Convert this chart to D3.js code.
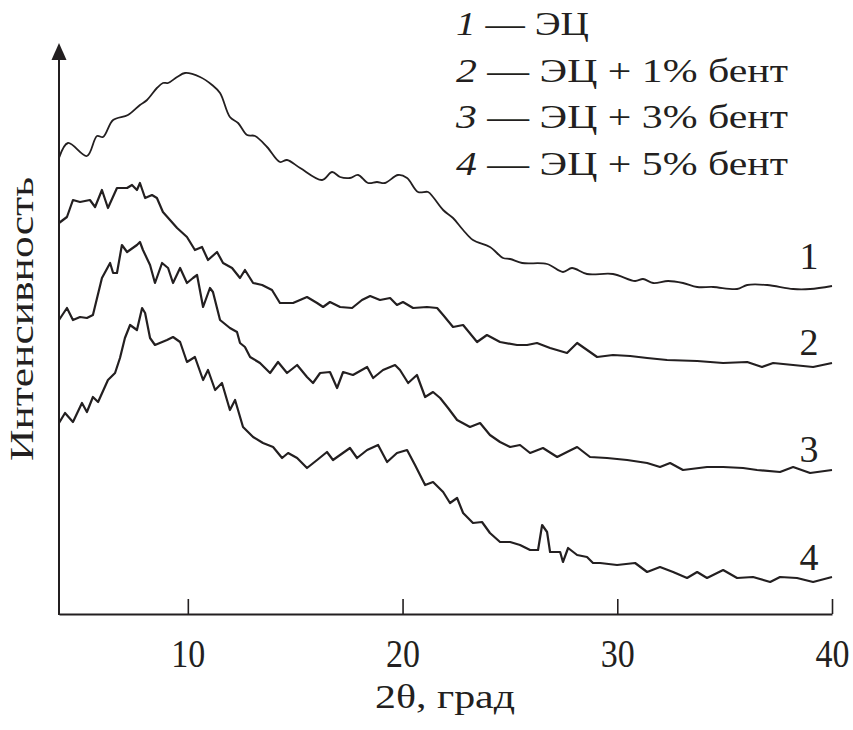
<!DOCTYPE html>
<html><head><meta charset="utf-8">
<script src="https://cdn.jsdelivr.net/npm/d3@7"></script>
<style>
html,body{margin:0;padding:0;background:#fff;}
svg{display:block;}
text{font-family:"Liberation Serif","Times New Roman",Tinos,"Nimbus Roman","Nimbus Roman No9 L",FreeSerif,Times,serif;fill:#231f20;}
</style></head>
<body>
<script>
// ---- data (2θ in degrees, intensity in arbitrary units) ----
const xTicks = [10, 20, 30, 40];
const curveLabels = ["1", "2", "3", "4"];
const legendNums = ["1", "2", "3", "4"];
const legendTexts = [" — ЭЦ", " — ЭЦ + 1% бент", " — ЭЦ + 3% бент", " — ЭЦ + 5% бент"];
const xTitle = "2θ, град";
const yTitle = "Интенсивность";

const curve1 = [[4.00,455],[4.42,470],[5.30,457],[5.77,477],[6.05,476],[6.52,493],[7.21,498],[7.77,508],[8.10,513],[8.56,525],[8.84,530],[9.08,530],[9.50,536],[9.87,540],[10.57,536],[11.13,528],[11.50,520],[11.96,496],[12.34,490],[12.76,478],[13.13,477],[13.69,466],[14.29,451],[14.62,453],[15.23,445],[16.25,433],[16.72,441],[17.09,436],[17.55,435],[17.93,438],[18.39,430],[18.81,431],[19.18,430],[19.79,438],[20.21,435],[20.72,421],[21.19,421],[21.42,416],[21.89,403],[22.35,395],[22.82,383],[23.28,373],[24.07,366],[24.68,355],[25.01,354],[25.57,350],[26.73,349],[27.47,341],[27.89,345],[28.59,339],[29.80,339],[30.83,332],[31.20,334],[31.67,330],[32.37,332],[33.06,330],[33.72,326],[34.46,326],[35.58,324],[36.05,328],[36.98,328],[38.19,324],[38.98,324],[40.00,327]];

const curve2 = [[4.00,390],[4.37,396],[4.65,413],[4.98,411],[5.44,413],[5.68,406],[6.00,423],[6.28,405],[6.70,425],[7.17,425],[7.40,428],[7.63,423],[7.77,430],[8.01,415],[8.33,418],[8.56,415],[8.84,401],[9.17,393],[9.50,385],[9.96,376],[10.33,363],[10.66,366],[10.94,353],[11.36,361],[11.64,350],[12.06,345],[12.43,335],[12.66,343],[13.04,330],[13.46,328],[13.92,323],[14.29,310],[14.90,310],[15.55,316],[16.02,310],[16.30,306],[16.62,311],[17.09,306],[17.65,305],[18.11,313],[18.49,317],[18.95,313],[19.42,315],[19.74,308],[20.02,311],[20.49,305],[21.14,306],[21.61,305],[21.89,298],[22.35,286],[22.82,288],[23.47,271],[23.93,278],[24.54,271],[25.33,268],[25.80,268],[26.26,270],[26.87,265],[27.66,260],[28.13,270],[28.73,261],[29.06,256],[29.80,258],[30.60,257],[31.39,255],[32.32,253],[33.72,252],[34.93,250],[36.05,251],[36.74,246],[37.26,250],[38.19,248],[39.12,246],[40.00,250]];

const curve3 = [[4.00,293],[4.37,305],[4.65,293],[4.98,296],[5.30,295],[5.58,298],[6.00,335],[6.38,350],[6.52,340],[6.70,340],[6.93,368],[7.17,361],[7.63,368],[7.77,371],[7.91,363],[8.24,348],[8.47,330],[8.80,350],[9.08,345],[9.31,330],[9.64,345],[9.96,330],[10.24,335],[10.43,338],[10.71,306],[11.03,325],[11.17,321],[11.50,293],[11.96,285],[12.29,281],[12.43,270],[12.66,266],[12.90,256],[13.36,250],[13.83,240],[14.20,251],[14.62,240],[15.09,248],[15.55,236],[15.83,230],[16.16,240],[16.62,241],[16.95,225],[17.23,241],[17.69,238],[18.35,246],[18.63,235],[19.09,243],[19.65,248],[19.88,243],[20.26,230],[20.67,238],[21.05,216],[21.42,221],[21.75,215],[22.12,205],[22.54,193],[23.14,186],[23.61,190],[24.07,178],[24.54,171],[25.01,166],[25.47,168],[25.94,160],[26.54,165],[27.20,156],[27.66,161],[28.13,166],[28.73,156],[29.52,155],[30.46,153],[31.39,150],[31.99,146],[32.46,150],[33.06,143],[34.18,146],[34.93,146],[35.86,145],[36.51,143],[37.58,141],[38.19,146],[38.98,140],[40.00,143]];

const curve4 = [[4.00,190],[4.28,200],[4.65,191],[5.07,210],[5.30,201],[5.58,216],[5.82,211],[6.28,233],[6.61,240],[6.84,255],[7.07,275],[7.31,288],[7.63,283],[7.87,305],[8.01,300],[8.24,275],[8.47,268],[9.03,273],[9.31,276],[9.64,271],[9.96,251],[10.33,256],[10.71,233],[10.94,243],[11.27,223],[11.59,230],[11.96,203],[12.20,213],[12.57,186],[13.04,176],[13.50,170],[13.97,166],[14.39,155],[14.67,160],[15.09,155],[15.55,145],[16.02,153],[16.48,161],[16.76,153],[17.55,165],[17.88,155],[18.35,163],[18.86,168],[19.28,151],[19.74,160],[20.21,163],[20.58,148],[21.05,128],[21.42,131],[21.89,121],[22.21,110],[22.54,115],[22.82,100],[23.28,90],[23.70,91],[24.07,80],[24.54,71],[25.01,71],[25.47,68],[25.94,63],[26.31,63],[26.50,88],[26.73,81],[26.87,61],[27.34,61],[27.47,51],[27.71,65],[28.13,58],[28.59,56],[28.87,50],[29.20,50],[29.99,48],[30.83,50],[31.39,41],[31.99,46],[32.60,41],[33.25,35],[33.72,41],[34.18,35],[34.93,43],[35.58,35],[36.32,36],[37.12,31],[37.58,36],[38.37,35],[39.12,31],[40.00,36]];

const curves = [curve1, curve2, curve3, curve4];

// ---- drawing ----
const W = 853, H = 730;
const svg = d3.select("body").append("svg").attr("width", W).attr("height", H);

const x = d3.scaleLinear().domain([4, 40]).range([59, 832]);
const y = d3.scaleLinear().domain([-1, 570]).range([614, 43]);
const ink = "#231f20";

// x axis
const xAxis = d3.axisBottom(x).tickValues(xTicks).tickSizeInner(-15).tickSizeOuter(0).tickFormat(d3.format("d"));
const gx = svg.append("g").attr("transform", `translate(0,${y(-1)})`).call(xAxis);
gx.attr("font-family", null).attr("font-size", null);
gx.select(".domain").attr("stroke", ink).attr("stroke-width", 2);
gx.selectAll(".tick line").attr("stroke", ink).attr("stroke-width", 1.6);
gx.selectAll(".tick text")
  .attr("y", 53).attr("dy", 0)
  .attr("font-size", 41)
  .attr("fill", ink)
  .attr("textLength", 34).attr("lengthAdjust", "spacingAndGlyphs");

// y axis with arrow
svg.append("line").attr("x1", x(4)).attr("x2", x(4)).attr("y1", y(-1) + 1).attr("y2", 56)
  .attr("stroke", ink).attr("stroke-width", 2);
svg.append("path").attr("d", `M${x(4)},${y(570)} L${x(4) - 7.5},${y(570) + 17} L${x(4) + 7.5},${y(570) + 17} Z`)
  .attr("fill", ink);

// curves
const smoothLine = d3.line().x(d => x(d[0])).y(d => y(d[1])).curve(d3.curveCatmullRom.alpha(0.5));
const rawLine = d3.line().x(d => x(d[0])).y(d => y(d[1]));
svg.selectAll("path.curve").data(curves).enter().append("path")
  .attr("class", "curve")
  .attr("d", (d, i) => i === 0 ? smoothLine(d) : rawLine(d))
  .attr("fill", "none")
  .attr("stroke", ink)
  .attr("stroke-width", (d, i) => i === 0 ? 1.8 : 2.2)
  .attr("stroke-linejoin", "round");

// curve labels
const labelBase = [269, 355, 462, 570];
svg.selectAll("text.clabel").data(curveLabels).enter().append("text")
  .attr("class", "clabel")
  .attr("x", 809).attr("y", (d, i) => labelBase[i])
  .attr("text-anchor", "middle")
  .attr("font-size", 38)
  .text(d => d);

// legend
const legBase = [35, 82, 128, 175];
const legWidth = [133, 332, 332, 332];
legendNums.forEach((n, i) => {
  const t = svg.append("text").attr("x", 456).attr("y", legBase[i]).attr("font-size", 34)
    .attr("textLength", legWidth[i]).attr("lengthAdjust", "spacingAndGlyphs");
  t.append("tspan").attr("font-style", "italic").text(n);
  t.append("tspan").text(legendTexts[i]);
});

// axis titles
svg.append("text").attr("x", 445).attr("y", 708).attr("text-anchor", "middle")
  .attr("font-size", 33).attr("textLength", 140).attr("lengthAdjust", "spacingAndGlyphs").text(xTitle);
svg.append("text").attr("transform", "translate(33,319) rotate(-90)").attr("text-anchor", "middle")
  .attr("font-size", 34).attr("textLength", 284).attr("lengthAdjust", "spacingAndGlyphs").text(yTitle);
</script>
</body></html>
